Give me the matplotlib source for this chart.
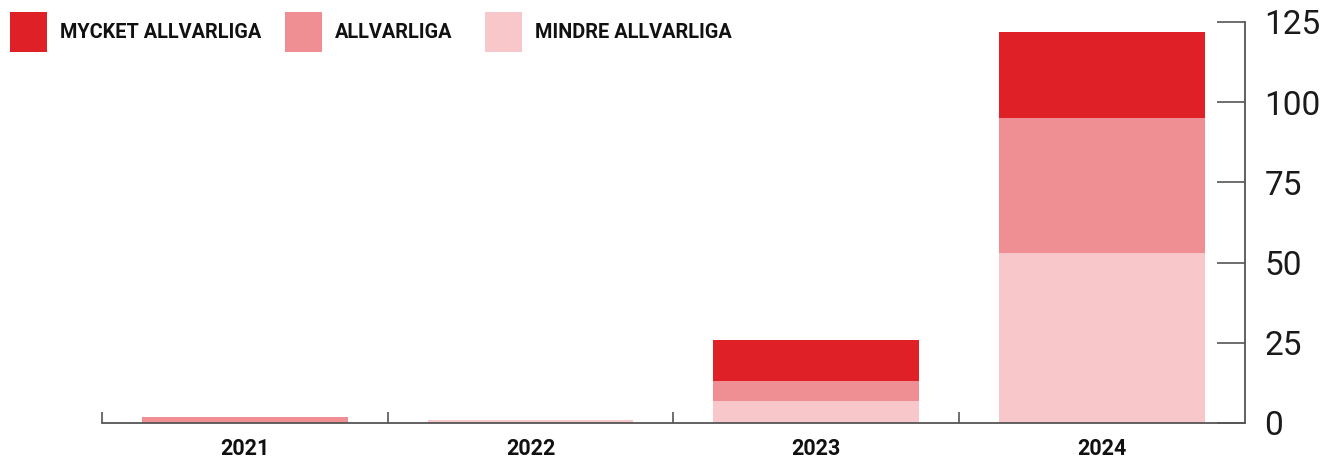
import matplotlib.pyplot as plt
import matplotlib.patches as mpatches
import numpy as np

years = ['2021', '2022', '2023', '2024']
series_names = ['MYCKET ALLVARLIGA', 'ALLVARLIGA', 'MINDRE ALLVARLIGA']
mycket = [0, 0, 13, 27]
allvarliga = [2, 0, 6, 42]
mindre = [0, 1, 7, 53]

colors = ['#E02027', '#EF8F94', '#F7C7CA']
axis_color = '#555555'

plt.rcParams['font.family'] = ['Roboto', 'DejaVu Sans']

fig = plt.figure(figsize=(13.32, 4.63), dpi=100)
ax = fig.add_axes([0.0766, 0.0864, 0.858, 0.8661])

x = np.arange(len(years))
w = 0.72
bottom = np.zeros(len(years))
# stack from bottom: mindre, allvarliga, mycket
for vals, col in zip([mindre, allvarliga, mycket], colors[::-1]):
    ax.bar(x, vals, w, bottom=bottom, color=col, linewidth=0)
    bottom += np.array(vals)

ax.set_xlim(-0.5, 3.5)
ax.set_ylim(0, 125)

for s in ['left', 'top']:
    ax.spines[s].set_visible(False)
for s in ['bottom', 'right']:
    ax.spines[s].set_color(axis_color)
    ax.spines[s].set_linewidth(1.3)

ax.yaxis.tick_right()
ax.set_yticks([0, 25, 50, 75, 100, 125])
ax.tick_params(axis='y', direction='in', length=20, width=1.2, color=axis_color,
               pad=14, labelsize=24, labelcolor='#1a1a1a')

ax.set_xticks(x)
ax.set_xticklabels(years, fontsize=15.5, fontweight='bold', color='#111111')
ax.tick_params(axis='x', which='major', length=0, pad=11)
ax.set_xticks([-0.5, 0.5, 1.5, 2.5], minor=True)
ax.tick_params(axis='x', which='minor', direction='in', length=8, width=1.2, color=axis_color)

# legend drawn at the top left
leg_x = [10, 285, 485]
for name, col, px in zip(series_names, colors, leg_x):
    fig.patches.append(mpatches.Rectangle((px / 1332, 1 - 52 / 463), 37 / 1332, 40 / 463,
                                          transform=fig.transFigure, color=col, linewidth=0))
    fig.text((px + 50) / 1332, 1 - 32 / 463, name, fontsize=14.3, fontweight='bold',
             va='center', ha='left', color='#111111')

fig.savefig('out.png', dpi=100)
